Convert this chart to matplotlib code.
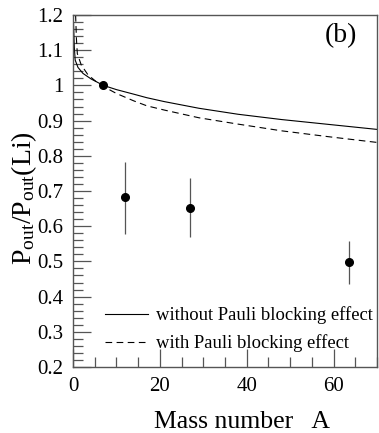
"""
Ratio P_out / P_out(Li) versus mass number A, panel (b).
"""
import matplotlib
matplotlib.use("Agg")
import matplotlib.pyplot as plt
from matplotlib.ticker import MultipleLocator

plt.rcParams["font.family"] = ["Liberation Serif", "DejaVu Serif"]
plt.rcParams["mathtext.fontset"] = "custom"
plt.rcParams["mathtext.rm"] = "Liberation Serif"
plt.rcParams["mathtext.it"] = "Liberation Serif:italic"

# measured points (Li, C, Al, Cu)
mass_a = [7, 12, 27, 63.5]
ratio = [1.0, 0.683, 0.653, 0.498]
err_lo = [0.0, 0.105, 0.083, 0.063]
err_hi = [0.0, 0.100, 0.084, 0.060]

# curves
curve_a = [0.05, 0.3, 0.5, 1.15, 2.3, 4.2, 7, 10, 14, 17, 21, 29, 38, 48,
           59, 70]
without_pauli = [1.20, 1.11, 1.072, 1.051, 1.034, 1.018, 1.0, 0.988, 0.975,
                 0.965, 0.954, 0.935, 0.918, 0.903, 0.889, 0.875]
dashed_a = [0.6, 0.8, 1.0, 1.9, 3.45, 5.4, 7, 10, 14, 17, 21, 29, 38, 48,
            59, 70]
with_pauli = [1.20, 1.13, 1.09, 1.058, 1.03, 1.01, 0.997, 0.977, 0.956,
              0.942, 0.930, 0.908, 0.890, 0.871, 0.854, 0.838]

y_ticks = [0.2, 0.3, 0.4, 0.5, 0.6, 0.7, 0.8, 0.9, 1.0, 1.1, 1.2]
y_tick_labels = ["0.2", "0.3", "0.4", "0.5", "0.6", "0.7", "0.8", "0.9",
                 "1", "1.1", "1.2"]

fig = plt.figure(figsize=(3.79, 4.33), dpi=100)
ax = fig.add_axes([0.1926, 0.1524, 0.802, 0.813])

ax.plot(curve_a, without_pauli, color="black", lw=0.8,
        label="without Pauli blocking effect")
ax.plot(dashed_a, with_pauli, color="black", lw=0.8, dashes=(6, 4),
        label="with Pauli blocking effect")
ax.errorbar(mass_a, ratio, yerr=[err_lo, err_hi], fmt="o", color="black",
            ecolor="#555555", elinewidth=0.9, markersize=5.5, capsize=0)

ax.set_xlim(0, 70)
ax.set_ylim(0.2, 1.2)
ax.xaxis.set_major_locator(MultipleLocator(20))
ax.xaxis.set_minor_locator(MultipleLocator(5))
ax.set_yticks(y_ticks)
ax.set_yticklabels(y_tick_labels)
ax.yaxis.set_minor_locator(MultipleLocator(0.02))
ax.tick_params(which="both", direction="in", top=False, right=False,
               labelsize=15, color="#555555")
ax.tick_params(which="major", length=13, width=0.9, pad=7)
ax.tick_params(which="minor", length=7, width=0.9)
for s in ax.spines.values():
    s.set_color("#555555")
    s.set_linewidth(1.0)

ax.set_xlabel("Mass number   A", fontsize=18.5, va="baseline")
ax.xaxis.set_label_coords(0.557, -0.174)
ax.set_ylabel(r"$\mathrm{P_{out}/P_{out}(Li)}$", fontsize=20)
ax.yaxis.set_label_coords(-0.113, 0.48)

ax.text(0.88, 0.94, "(b)", transform=ax.transAxes, fontsize=20,
        ha="center", va="center")

ax.legend(loc="upper left", bbox_to_anchor=(0.105, 0.172), frameon=False,
          fontsize=13.4, handlelength=2.3, handletextpad=0.45,
          labelspacing=0.55, borderpad=0, borderaxespad=0)

fig.savefig("out.png", dpi=100)
